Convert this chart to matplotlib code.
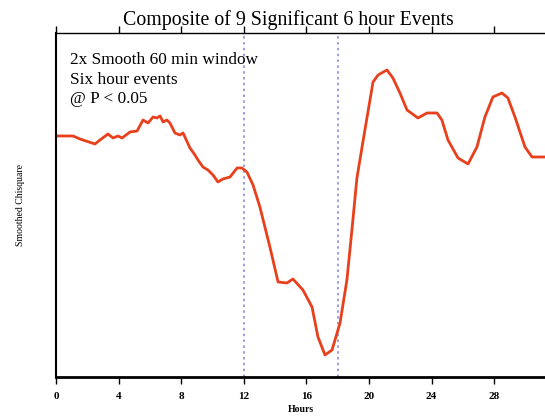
import matplotlib
matplotlib.use("Agg")
import matplotlib.pyplot as plt

# composite curve (hours, smoothed chisquare, arbitrary units)
hours = [0, 1.09, 1.53, 2.49, 2.81, 3.32, 3.64, 3.96, 4.22, 4.73, 5.18, 5.56, 5.88,
         6.20, 6.45, 6.65, 6.84, 7.09, 7.28, 7.60, 7.92, 8.12, 8.56, 8.88, 9.07, 9.39,
         9.71, 10.03, 10.35, 10.67, 11.12, 11.57, 11.88, 12.20, 12.59, 13.03, 13.67,
         14.19, 14.76, 15.14, 15.78, 16.36, 16.74, 17.19, 17.64, 18.15, 18.59, 18.91,
         19.23, 19.74, 20.26, 20.58, 21.15, 21.53, 21.98, 22.43, 23.13, 23.71, 24.35,
         24.66, 25.05, 25.69, 26.33, 26.90, 27.41, 27.92, 28.50, 28.88, 29.33, 29.97,
         30.42, 31.25]
chisq = [241, 241, 238, 233, 237, 243, 239, 241, 239, 245, 246, 257, 254,
         260, 259, 261, 255, 257, 254, 244, 242, 244, 229, 222, 217, 210,
         207, 202, 195, 198, 200, 209, 209, 205, 192, 170, 130,
         95, 94, 98, 87, 70, 40, 22, 27, 54, 97, 147,
         199, 247, 295, 302, 307, 299, 284, 267, 259, 264, 264,
         257, 237, 219, 213, 230, 260, 280, 284, 279, 260, 230,
         220, 220]
event_bounds = [12, 18]
xticks = [0, 4, 8, 12, 16, 20, 24, 28]

plt.rcParams['font.family'] = ['Liberation Serif', 'DejaVu Serif']

fig = plt.figure(figsize=(5.45, 4.16), dpi=100)
ax = fig.add_axes([0.1028, 0.0938, 0.8972, 0.8269])

for b in event_bounds:
    ax.axvline(b, color='#8c8cdc', linestyle=(0, (1.5, 2)), linewidth=1.2)
ax.plot(hours, chisq, color='#e8401c', linewidth=2.0, solid_joinstyle='round')

ax.set_xlim(0, 31.25)
ax.set_ylim(0, 344)
ax.set_xticks(xticks)
ax.set_xticklabels([str(t) for t in xticks], fontsize=8, fontweight='bold')
ax.set_yticks([])
ax.tick_params(axis='x', which='both', direction='out', length=5, width=1,
               top=True, bottom=True, pad=6)

ax.spines['right'].set_visible(False)
ax.spines['left'].set_linewidth(1.5)
ax.spines['bottom'].set_linewidth(2)
ax.spines['top'].set_linewidth(1)

ax.set_title('Composite of 9 Significant 6 hour Events', fontsize=14.3, pad=6, x=0.476)
ax.set_xlabel('Hours', fontsize=7, fontweight='bold', labelpad=3)
ax.set_ylabel('Smoothed Chisquare', fontsize=7, labelpad=22)

ax.text(0.028, 0.945, '2x Smooth 60 min window\nSix hour events\n@ P < 0.05',
        transform=ax.transAxes, fontsize=12.4, va='top', ha='left', linespacing=1.3)

fig.savefig('out.png', dpi=100)
